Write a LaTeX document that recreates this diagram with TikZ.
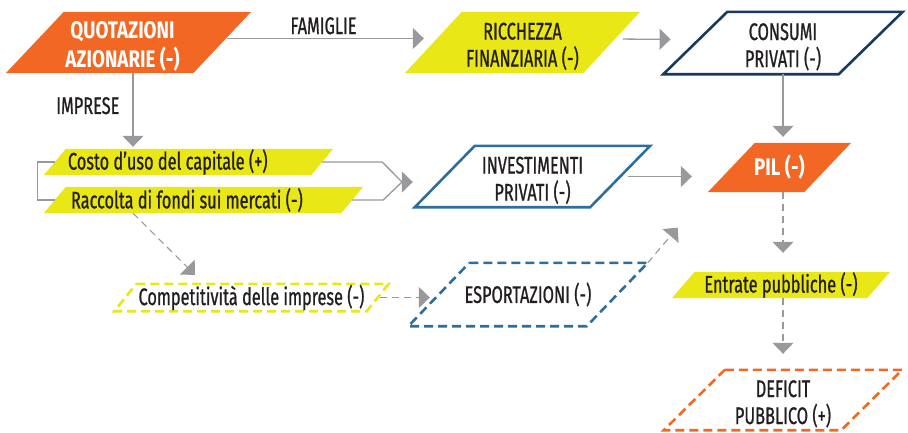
\documentclass[tikz,border=0pt]{standalone}
\usepackage{fontspec}
\setmainfont{Fira Sans}[FakeStretch=0.68, FakeBold=0.8]
\newfontfamily\headfont{Fira Sans}[FakeStretch=0.78]
\usepackage{xcolor}
\usetikzlibrary{arrows.meta}
\usetikzlibrary{backgrounds, calc}
\definecolor{myorange}{RGB}{242,103,36}
\definecolor{myyellow}{RGB}{234,231,22}
\definecolor{mynavy}{RGB}{24,58,92}
\definecolor{myblue}{RGB}{46,110,158}
\definecolor{mygray}{RGB}{152,152,157}
\definecolor{mytext}{RGB}{35,31,32}

% parallelogram behind a named node: node, slant, style
\newcommand{\pgram}[3]{%
 \begin{scope}[on background layer]
 \path[#3] ([xshift=#2/2]#1.north west) -- ([xshift=#2/2]#1.north east) -- ([xshift=-#2/2]#1.south east) -- ([xshift=-#2/2]#1.south west) -- cycle;
 \end{scope}}
\newcommand{\topgap}{\rule{0pt}{24.5pt}}

\begin{document}
\begin{tikzpicture}[x=1pt, y=-1pt,
 lbl/.style={font=\fontsize{24}{27}\selectfont, text=mytext, align=center, inner sep=0pt},
 hot/.style={lbl, text=white, font=\fontsize{24}{29}\selectfont\headfont\bfseries},
 tag/.style={font=\fontsize{24}{27}\selectfont, text=mytext, inner sep=0pt},
 wire/.style={draw=mygray, line width=1.3pt},
 arr/.style={wire, -{Triangle[length=11pt,width=21pt]}},
 darr/.style={arr, line width=1.1pt, dash pattern=on 7pt off 5pt},
 dbox/.style={line width=2.6pt, dash pattern=on 9pt off 5pt}]

\useasboundingbox (0,0) rectangle (908,432);

 %top row
 \node[hot, minimum width=187pt, minimum height=61pt] (quot) at (128.5,42.5) {\topgap QUOTAZIONI\hspace*{12pt}\\AZIONARIE (-)\hspace*{12pt}};
 \node[lbl, minimum width=178pt, minimum height=61pt] (ricch) at (522.5,42.5) {\topgap RICCHEZZA\\FINANZIARIA (-)};
 \node[lbl, minimum width=175pt, minimum height=62pt] (cons) at (783,43) {\topgap CONSUMI\\PRIVATI (-)};

 %middle row
 \node[lbl, minimum height=26pt, inner xsep=13pt] (costo) at (188.5,162) {\makebox[241pt][l]{Costo d’uso del capitale (+)}};
 \node[lbl, minimum height=26pt, inner xsep=16pt] (racc) at (203.5,200) {\makebox[265pt][l]{Raccolta di fondi sui mercati (-)}};
 \node[lbl, minimum width=175pt, minimum height=61pt] (inv) at (532.5,176.5) {\topgap INVESTIMENTI\\PRIVATI (-)};
 \node[hot, minimum width=96pt, minimum height=49pt] (pil) at (779.5,167.5) {PIL (-)};

 %bottom rows
 \node[lbl, minimum width=252pt, minimum height=27pt] (comp) at (251.5,297.5) {Competitività delle imprese (-)};
 \node[lbl, minimum width=178pt, minimum height=63pt] (esp) at (528,294.5) {ESPORTAZIONI (-)};
 \node[lbl, minimum width=195pt, minimum height=26pt] (entr) at (781,285) {Entrate pubbliche (-)};
 \node[lbl, minimum width=177pt, minimum height=60pt] (defi) at (783,400) {\topgap DEFICIT\\PUBBLICO (+)};

 \pgram{quot}{58}{fill=myorange}
 \pgram{ricch}{57}{fill=myyellow}
 \pgram{cons}{64}{draw=mynavy, line width=2.6pt, fill=white}
 \pgram{costo}{22}{fill=myyellow}
 \pgram{racc}{22}{fill=myyellow}
 \pgram{inv}{60}{draw=myblue, line width=2.6pt}
 \pgram{pil}{47}{fill=myorange}
 \pgram{comp}{22}{draw=myyellow, dbox}
 \pgram{esp}{61}{draw=myblue, dbox}
 \pgram{entr}{23}{fill=myyellow}
 \pgram{defi}{61}{draw=myorange, dbox}

 %famiglie, imprese
 \draw[arr, shorten <=5pt, shorten >=9.5pt] ([yshift=4]quot.east) -- ([yshift=4]ricch.west) node[pos=0.48, above=3.5pt, tag] (famlbl) {FAMIGLIE};
 \draw[arr, shorten >=2pt] ($(quot.south)+(4.5,0)$) -- ($(quot.south |- costo.north)+(4.5,0)$) node[pos=0.43, left=13pt, tag] (implbl) {IMPRESE};
 \draw[arr, shorten <=11.5pt, shorten >=24.75pt] ([yshift=3.5]ricch.east) -- ([yshift=3.5]cons.west);

 %bracket
 \coordinate (merge) at (402,182);
 \draw[wire] (costo.west) -- ++(-17,0) |- (racc.west);
 \draw[wire] (costo.east) -- ++(60,0) -- (merge);
 \draw[wire] (racc.east) -- ++(31,0) -- (merge);
 \draw[arr, shorten >=32pt] (merge) -- (merge -| inv.west);

 %to pil
 \draw[arr, shorten >=6pt] (cons.south) -- (cons.south |- pil.north);
 \draw[arr, shorten <=8pt, shorten >=39.5pt] (inv.east) -- (inv.east -| pil.west);

 %dashed
 \draw[darr, shorten >=12.7pt] ($(racc.south)+(-70.5,0)$) -- ($(comp.north)+(-47.5,0)$);
 \draw[darr, shorten <=2.5pt, shorten >=9pt] (comp.east) -- (comp.east -| esp.west);
 \draw[darr, shorten >=46.5pt] ($(esp.north east)+(30.5,0)$) -- ($(pil.south west)+(-23.5,0)$);
 \draw[darr, shorten >=19pt] (pil.south -| cons.south) -- (entr.north -| cons.south);
 \draw[darr, shorten >=16pt] (entr.south -| cons.south) -- (defi.north -| cons.south);

\end{tikzpicture}
\end{document}
